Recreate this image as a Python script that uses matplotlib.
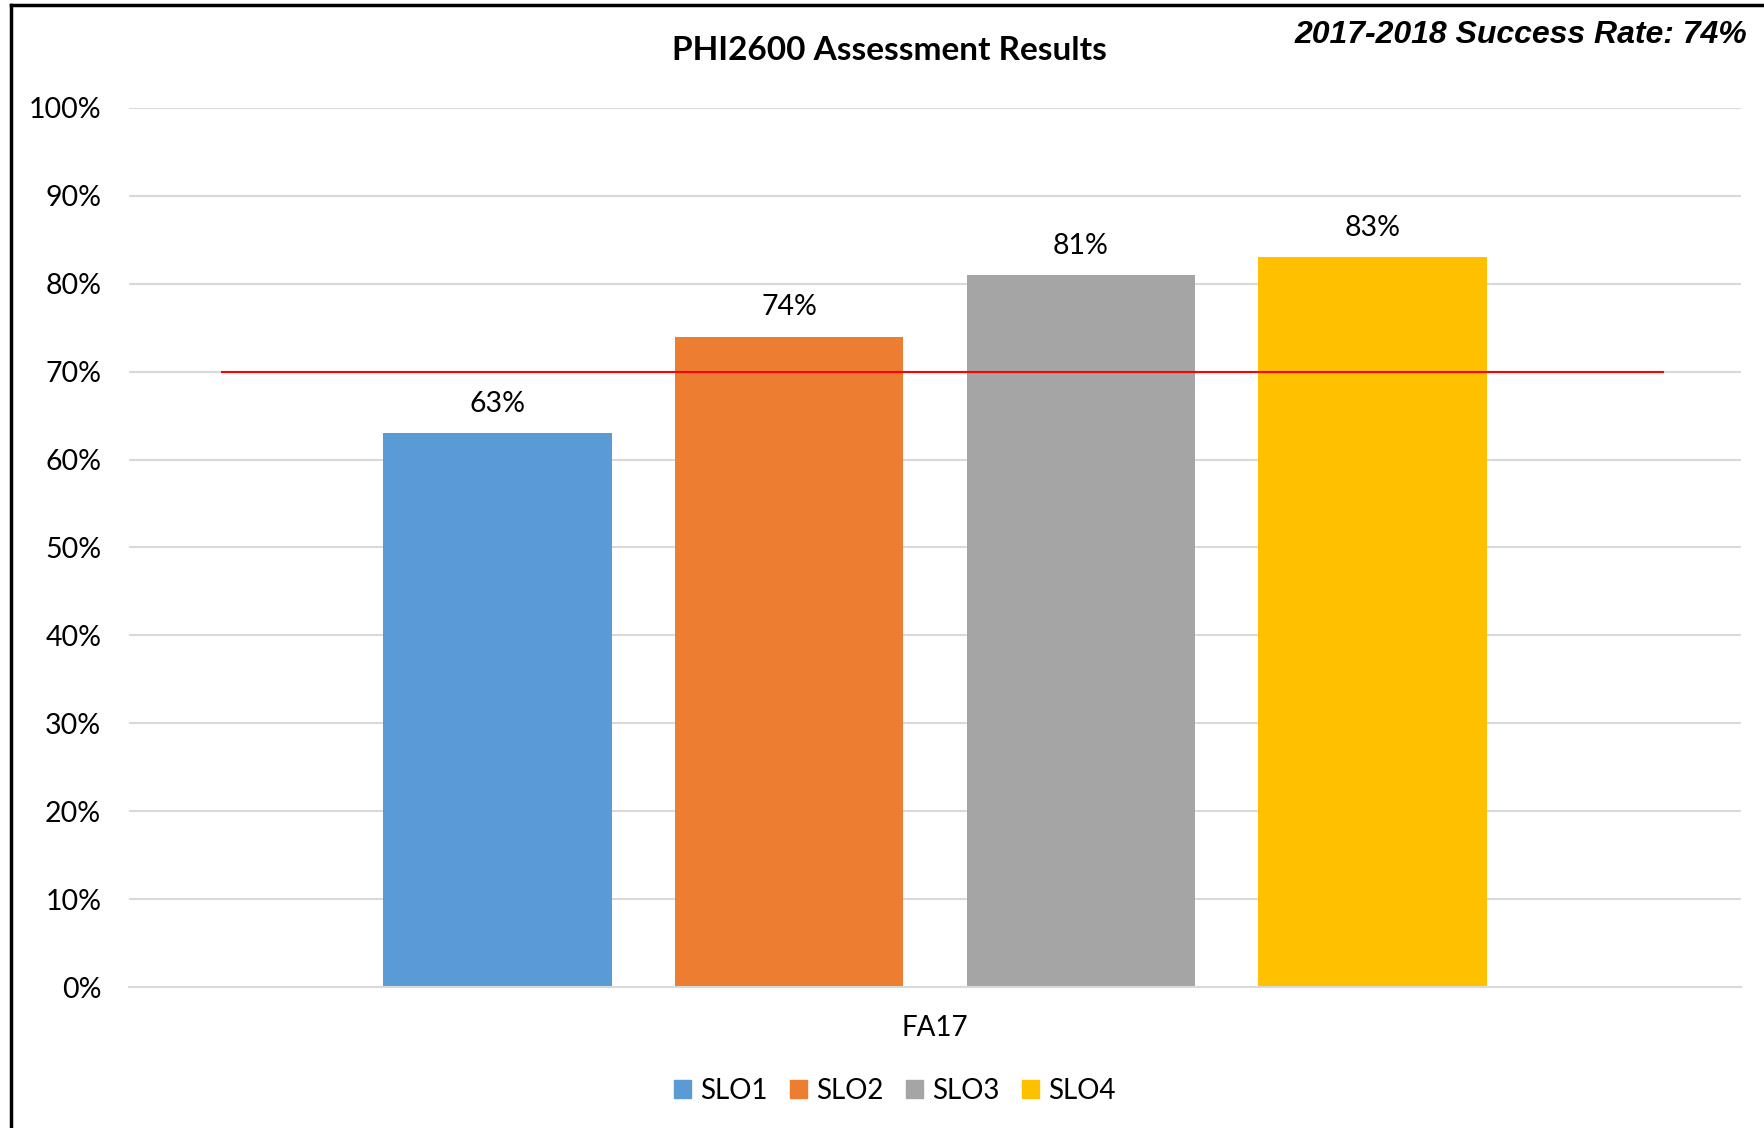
import matplotlib.pyplot as plt
from matplotlib.lines import Line2D
from matplotlib.patches import Patch
import numpy as np

plt.rcParams['font.family'] = ['Lato', 'DejaVu Sans']

# data
term = ['FA17']
slo_names = ['SLO1', 'SLO2', 'SLO3', 'SLO4']
slo_values = [63, 74, 81, 83]
target = 70
y_ticks = list(range(0, 101, 10))
colors = ['#5b9bd5', '#ed7d31', '#a5a5a5', '#ffc000']

fig = plt.figure(figsize=(17.65, 11.28), dpi=100)
ax = fig.add_axes([0.0731, 0.125, 0.9133, 0.7793])

step = 0.1811
width = 0.142
offsets = (np.arange(len(slo_names)) - (len(slo_names) - 1) / 2) * step
for i, name in enumerate(slo_names):
    bars = ax.bar(offsets[i], slo_values[i], width=width, color=colors[i], label=name, zorder=2)
    for b in bars:
        ax.annotate(f'{slo_values[i]}%', (b.get_x() + b.get_width() / 2, b.get_height()),
                    xytext=(0, 21), textcoords='offset points', ha='center', va='center',
                    fontsize=20.5, color='#000000')

# target line
ax.hlines(target, -0.443, 0.452, color='#ff0000', lw=1.5, zorder=3)

ax.set_xlim(-0.5, 0.5)
ax.set_ylim(0, 100)
ax.set_yticks(y_ticks)
ax.set_yticklabels([f'{t}%' for t in y_ticks], fontsize=20.5)
ax.set_xticks([0])
ax.set_xticklabels(term, fontsize=20)
ax.tick_params(axis='both', length=0)
ax.tick_params(axis='y', pad=20)
ax.tick_params(axis='x', pad=20)
ax.grid(axis='y', color='#d9d9d9', lw=1.5, zorder=0)
for s in ['top', 'right', 'left']:
    ax.spines[s].set_visible(False)
ax.spines['bottom'].set_color('#d9d9d9')
ax.spines['bottom'].set_linewidth(1.5)

fig.text(889 / 1765, 1 - 50 / 1128, 'PHI2600 Assessment Results', ha='center', va='center',
         fontsize=24, fontweight='bold')
fig.text(1747 / 1765, 1 - 35 / 1128, '2017-2018 Success Rate: 74%', ha='right', va='center',
         fontsize=23, fontweight='bold', fontstyle='italic', family=['Liberation Sans', 'DejaVu Sans'])

handles = [Patch(color=c) for c in colors]
fig.legend(handles, slo_names, loc='center', bbox_to_anchor=(895 / 1765, 1 - 1091 / 1128),
           ncol=4, frameon=False, fontsize=20, handlelength=0.6, handleheight=0.6,
           handletextpad=0.35, columnspacing=0.8)

# outer border (top and left)
fig.add_artist(Line2D([11 / 1765, 1], [1 - 5 / 1128, 1 - 5 / 1128], color='black', lw=2.5))
fig.add_artist(Line2D([11 / 1765, 11 / 1765], [0, 1 - 5 / 1128], color='black', lw=2.5))

fig.savefig('out.png', dpi=100)
